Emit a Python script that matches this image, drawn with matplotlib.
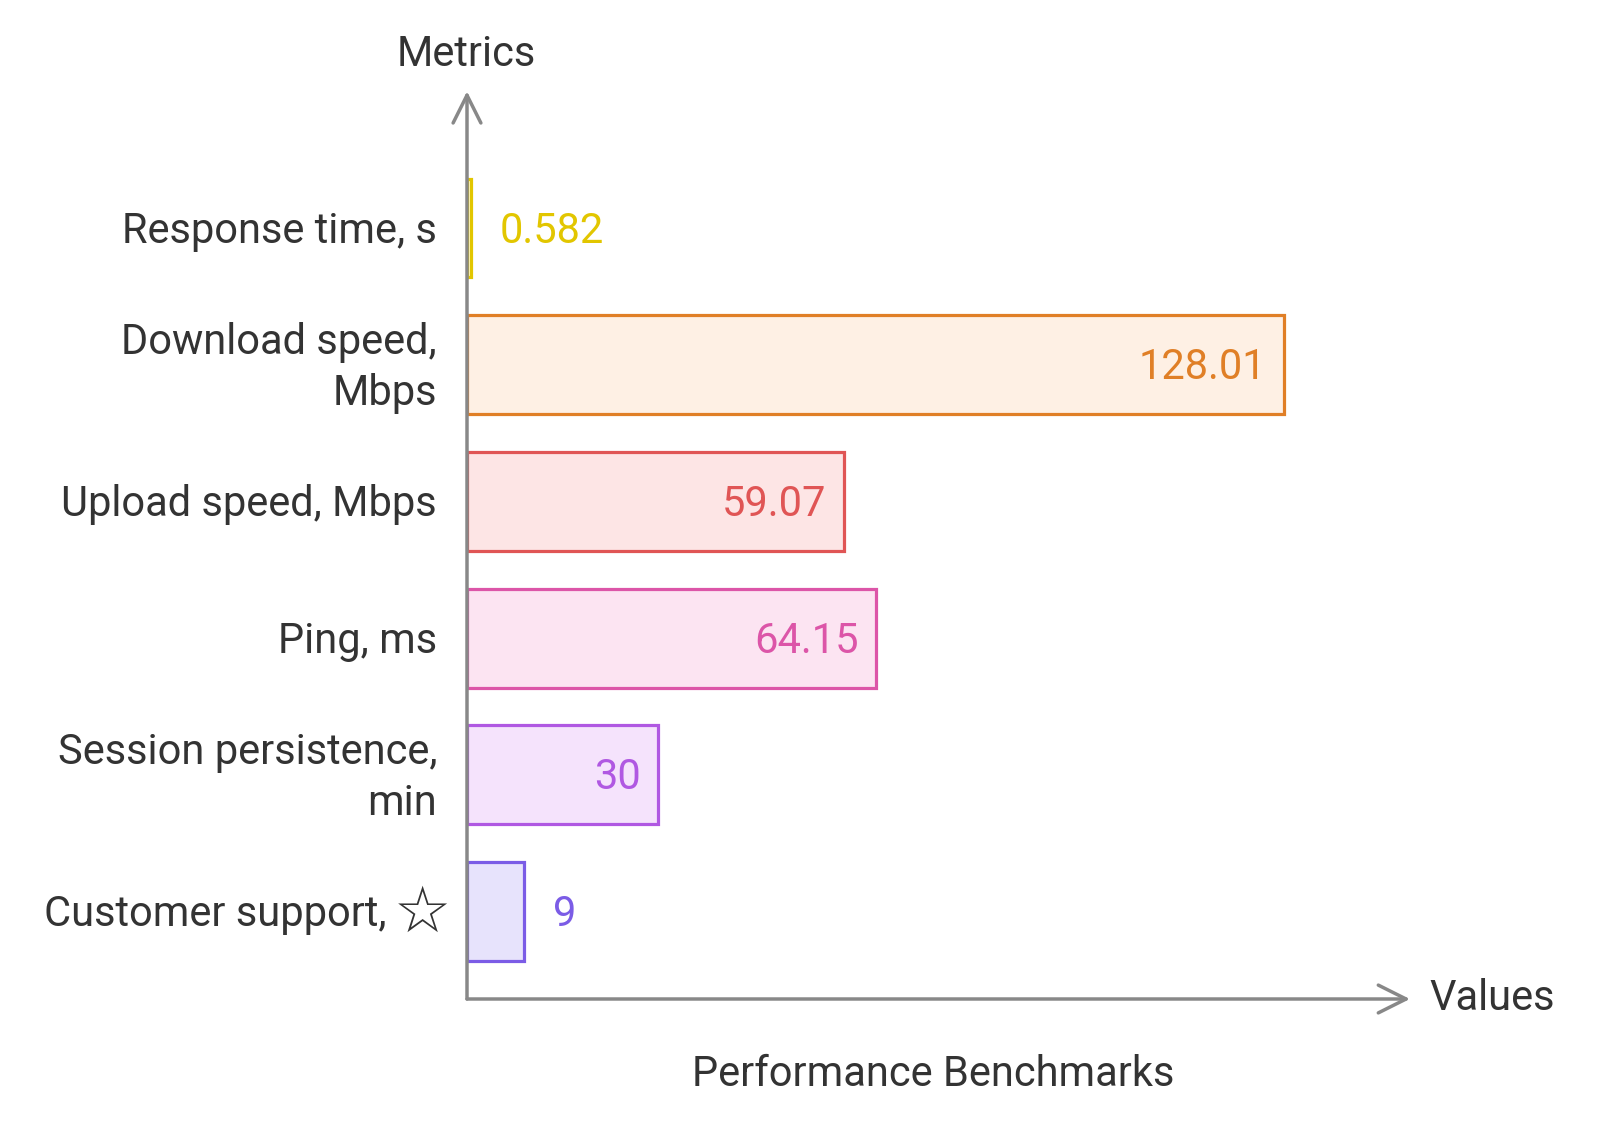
import matplotlib.pyplot as plt

plt.rcParams['font.family'] = ['Roboto', 'DejaVu Sans']

metrics = ['Response time, s', 'Download speed,\nMbps', 'Upload speed, Mbps',
           'Ping, ms', 'Session persistence,\nmin', 'Customer support,']
values = [0.582, 128.01, 59.07, 64.15, 30, 9]
labels = ['0.582', '128.01', '59.07', '64.15', '30', '9']
edge_colors = ['#E2C600', '#E07F26', '#E05555', '#DC55A8', '#B058E2', '#7B5CE6']
fill_colors = ['#FBF6D6', '#FEF0E4', '#FDE5E5', '#FCE4F2', '#F5E3FC', '#E7E3FC']

fig = plt.figure(figsize=(16, 11.22), dpi=100)
ax = fig.add_axes([467 / 1600, 123 / 1122, 957 / 1600, 907.7 / 1122])

ypos = list(range(len(metrics)))
ax.barh(ypos, values, height=0.724, color=fill_colors, edgecolor=edge_colors,
        linewidth=2.3, zorder=2)

for y, v, lab, c in zip(ypos, values, labels, edge_colors):
    if v > 20:
        ax.annotate(lab, (v, y), xytext=(-18, -3), textcoords='offset pixels',
                    ha='right', va='center', color=c, fontsize=30)
    else:
        ax.annotate(lab, (v, y), xytext=(29, -3), textcoords='offset pixels',
                    ha='left', va='center', color=c, fontsize=30)

# category labels (customer support gets a separate, larger star)
for y, m in zip(ypos, metrics):
    off = -30 if y < 5 else -81
    ax.annotate(m, (0, y), xytext=(off, -3), textcoords='offset pixels',
                ha='right', va='center', fontsize=30, color='#333333',
                linespacing=1.3, annotation_clip=False)
ax.annotate('\u2606', (0, 5), xytext=(-45, -2), textcoords='offset pixels',
            ha='center', va='center', fontsize=46, color='#333333',
            family='DejaVu Sans', annotation_clip=False)

ax.set_xlim(0, 150)
ax.set_ylim(5.64, -1.0)
ax.set_xticks([])
ax.set_yticks([])
for s in ax.spines.values():
    s.set_visible(False)

# axis arrows
arrow = dict(arrowstyle='->', color='#888888', lw=2.5, mutation_scale=50,
             shrinkA=0, shrinkB=0)
ax.annotate('', xy=(147.8, 5.64), xytext=(0, 5.64), arrowprops=arrow,
            annotation_clip=False, zorder=3)
ax.annotate('', xy=(0, -1.0), xytext=(0, 5.64), arrowprops=arrow,
            annotation_clip=False, zorder=3)

fig.text(466 / 1600, 1 - 55 / 1122, 'Metrics', ha='center', va='center',
         fontsize=30, color='#333333')
fig.text(1429 / 1600, 1 - 999 / 1122, 'Values', ha='left', va='center',
         fontsize=30, color='#333333')
fig.text(933 / 1600, 1 - 1075 / 1122, 'Performance Benchmarks', ha='center',
         va='center', fontsize=30, color='#333333')

fig.savefig('out.png', dpi=100, facecolor='white')
